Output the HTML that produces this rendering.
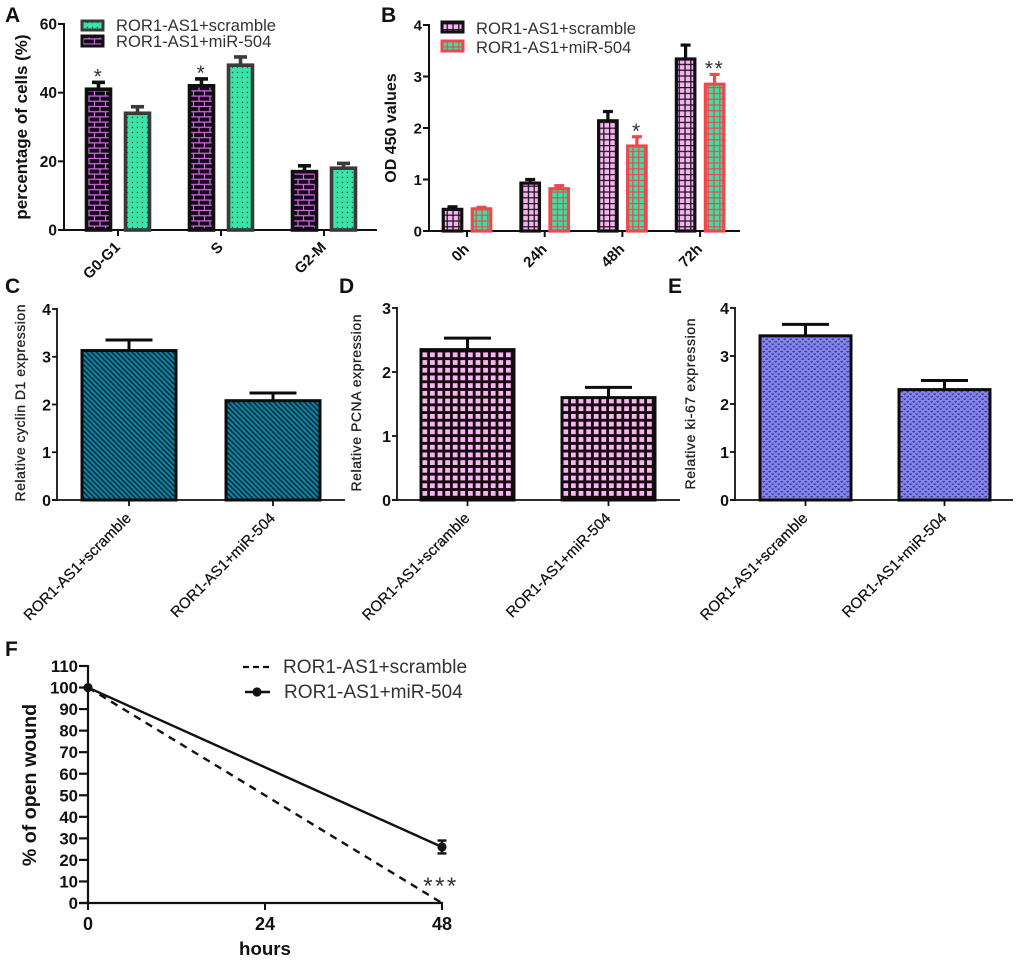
<!DOCTYPE html>
<html lang="en">
<head>
<meta charset="utf-8">
<title>ROR1-AS1 multi-panel figure</title>
<style>
html,body{margin:0;padding:0;background:#fff;overflow:hidden;}
svg{display:block;font-family:"Liberation Sans",Arial,sans-serif;filter:blur(0.35px);}
text{fill:#111;}
</style>
</head>
<body>
<svg id="fig" xmlns="http://www.w3.org/2000/svg" width="1020" height="961" viewBox="0 0 1020 961">
<defs>
  <pattern id="p-brick" width="11" height="10.4" patternUnits="userSpaceOnUse" x="86" y="0">
    <rect width="11" height="10.4" fill="#14061a"/>
    <path d="M0 2.5H11M0 7.7H11M3 2.5V7.7M8.5 7.7V10.4M8.5 0V2.5" stroke="#d36ae0" stroke-width="1.2" fill="none"/>
  </pattern>
  <pattern id="p-dots" width="5" height="5" patternUnits="userSpaceOnUse">
    <rect width="5" height="5" fill="#3be3a8"/>
    <rect x="1.8" y="1.8" width="1.3" height="1.3" fill="#1d5a48"/>
  </pattern>
  <pattern id="p-gridpink" width="5.8" height="5.8" patternUnits="userSpaceOnUse">
    <rect width="5.8" height="5.8" fill="#f3b4ee"/>
    <path d="M0 .6H5.8M.6 0V5.8" stroke="#1a0d1a" stroke-width="1.3" fill="none"/>
  </pattern>
  <pattern id="p-gridgreen" width="5.8" height="5.8" patternUnits="userSpaceOnUse">
    <rect width="5.8" height="5.8" fill="#34e3a6"/>
    <path d="M0 .6H5.8M.6 0V5.8" stroke="#f0474f" stroke-width="1.3" fill="none"/>
  </pattern>
  <pattern id="p-diag" width="3.6" height="3.6" patternUnits="userSpaceOnUse" patternTransform="rotate(45)">
    <rect width="3.6" height="3.6" fill="#0d86a6"/>
    <rect y="0" width="3.6" height="1.7" fill="#06303e"/>
  </pattern>
  <pattern id="p-square" width="7.6" height="7.7" patternUnits="userSpaceOnUse" x="420" y="350">
    <rect width="7.6" height="7.7" fill="#16060f"/>
    <rect x="2.4" y="2.4" width="4.8" height="4.8" fill="#f7b6f1"/>
  </pattern>
  <pattern id="p-square-2" width="7.6" height="7.7" patternUnits="userSpaceOnUse" x="561" y="350">
    <rect width="7.6" height="7.7" fill="#16060f"/>
    <rect x="2.4" y="2.4" width="4.8" height="4.8" fill="#f7b6f1"/>
  </pattern>
  <pattern id="p-blue" width="6" height="5" patternUnits="userSpaceOnUse">
    <rect width="6" height="5" fill="#8484ec"/>
    <path d="M.6 1.1l1.1 1 1.1-1M3.6 3.6l1.1 1 1.1-1" stroke="#2e2e86" stroke-width="1" fill="none"/>
  </pattern>
</defs>

<g font-weight="bold" font-size="21">
  <text x="5" y="22">A</text>
  <text x="381" y="22">B</text>
  <text x="5" y="293">C</text>
  <text x="339" y="293">D</text>
  <text x="668" y="293">E</text>
  <text x="5" y="656">F</text>
</g>

<g font-size="16.6">
  <rect x="82" y="21" width="21" height="9" fill="url(#p-dots)" stroke="#3a3a3a" stroke-width="3"/>
  <rect x="82" y="36" width="21" height="10" fill="url(#p-brick)" stroke="#111" stroke-width="3"/>
  <text x="116" y="31" style="fill:#333">ROR1-AS1+scramble</text>
  <text x="116" y="47" style="fill:#333">ROR1-AS1+miR-504</text>
</g>
<g font-size="16.6">
  <rect x="442" y="22" width="21" height="10" fill="url(#p-gridpink)" stroke="#111" stroke-width="3"/>
  <rect x="442" y="41" width="21" height="10" fill="url(#p-gridgreen)" stroke="#f0474f" stroke-width="3"/>
  <text x="476" y="34" style="fill:#333">ROR1-AS1+scramble</text>
  <text x="476" y="53" style="fill:#333">ROR1-AS1+miR-504</text>
</g>
<g font-size="19.1">
  <line x1="243" y1="667" x2="270" y2="667" stroke="#111" stroke-width="2.2" stroke-dasharray="6 4"/>
  <line x1="245" y1="692" x2="270" y2="692" stroke="#111" stroke-width="2.4"/>
  <circle cx="257" cy="692" r="4.6" fill="#111"/>
  <text x="283" y="673" style="fill:#333">ROR1-AS1+scramble</text>
  <text x="284" y="698" style="fill:#333">ROR1-AS1+miR-504</text>
</g>
</svg>

<script>
// Panel A
const aCategories = ['G0-G1', 'S', 'G2-M'];
const aMir504 = [41, 42, 17];
const aMir504Err = [2, 2, 1.7];
const aScramble = [34, 48, 18];
const aScrambleErr = [1.9, 2.4, 1.4];
const aTicks = [0, 20, 40, 60];
const aStars = ['*', '*', ''];
// Panel B
const bCategories = ['0h', '24h', '48h', '72h'];
const bScramble = [0.42, 0.93, 2.14, 3.34];
const bScrambleErr = [0.05, 0.07, 0.18, 0.27];
const bMir504 = [0.43, 0.82, 1.65, 2.85];
const bMir504Err = [0.03, 0.06, 0.18, 0.19];
const bTicks = [0, 1, 2, 3, 4];
const bStars = ['', '', '*', '**'];
// Panels C, D, E
const groupCategories = ['ROR1-AS1+scramble', 'ROR1-AS1+miR-504'];
const cValues = [3.13, 2.08];
const cErr = [0.22, 0.16];
const cTicks = [0, 1, 2, 3, 4];
const dValues = [2.35, 1.6];
const dErr = [0.18, 0.16];
const dTicks = [0, 1, 2, 3];
const eValues = [3.42, 2.3];
const eErr = [0.24, 0.19];
const eTicks = [0, 1, 2, 3, 4];
// Panel F
const fHours = [0, 48];
const fHourTicks = [0, 24, 48];
const fScramble = [100, 0];
const fMir504 = [100, 26];
const fMir504Err = [0, 3];
const fTicks = [0, 10, 20, 30, 40, 50, 60, 70, 80, 90, 100, 110];

const NS = 'http://www.w3.org/2000/svg';
const fig = document.getElementById('fig');

function make(parent, tag, attrs, name) {
  const el = document.createElementNS(NS, tag);
  for (const k in attrs) el.setAttribute(k, attrs[k]);
  
  
  parent.appendChild(el);
  return el;
}
function label(parent, attrs, str, name) {
  const t = make(parent, 'text', attrs, name);
  t.textContent = str;
  return t;
}

function drawAxes(g, o, prefix) {
  const y = v => o.y0 + (o.yTop - o.y0) * v / o.yMax;
  const tl = o.tickLen || 6;
  make(g, 'line', {x1: o.ax, y1: o.y0 + 1, x2: o.ax, y2: y(o.yMax) - 1, stroke: '#111', 'stroke-width': o.axisW}, prefix + '-y-axis');
  make(g, 'line', {x1: o.ax - tl, y1: o.y0, x2: o.xEnd, y2: o.y0, stroke: '#111', 'stroke-width': o.axisW}, prefix + '-x-axis');
  o.ticks.forEach(t => {
    make(g, 'line', {x1: o.ax - tl, y1: y(t), x2: o.ax, y2: y(t), stroke: '#111', 'stroke-width': o.axisW}, prefix + '-y-tick');
    label(g, {x: o.ax - tl - 1, y: y(t) + o.tickFont * 0.36, 'text-anchor': 'end', 'font-size': o.tickFont, 'font-weight': 'bold'}, String(t), prefix + '-y-tick-label');
  });
  return y;
}

function drawBar(g, cx, w, val, err, y, fill, stroke, sw, capW, name) {
  const top = y(val), hi = y(val + err);
  make(g, 'line', {x1: cx, y1: top, x2: cx, y2: hi, stroke: stroke, 'stroke-width': sw}, name + '-error-stem');
  make(g, 'line', {x1: cx - capW / 2, y1: hi, x2: cx + capW / 2, y2: hi, stroke: stroke, 'stroke-width': sw}, name + '-error-cap');
  make(g, 'rect', {x: cx - w / 2, y: top, width: w, height: y(0) - top, fill: fill, stroke: stroke, 'stroke-width': sw}, name);
}

function groupedPanel(o) {
  const g = make(fig, 'g', {}, o.name);
  const y = drawAxes(g, o, o.name);
  o.categories.forEach((c, i) => {
    const cx = o.x0 + o.step * i;
    make(g, 'line', {x1: cx, y1: o.y0, x2: cx, y2: o.y0 + 6, stroke: '#111', 'stroke-width': o.axisW}, o.name + '-x-tick');
    label(g, {x: 0, y: 0, transform: 'translate(' + (cx + o.labDx) + ',' + (o.y0 + o.labDy) + ') rotate(-45)', 'text-anchor': 'end', 'font-size': o.catFont, 'font-weight': 'bold'}, c, o.name + '-x-label');
    drawBar(g, cx - o.off, o.barW, o.s1[i], o.e1[i], y, o.f1, o.c1, o.barStroke, o.capW, o.name + '-bar-' + c + '-first');
    drawBar(g, cx + o.off, o.barW, o.s2[i], o.e2[i], y, o.f2, o.c2, o.barStroke, o.capW, o.name + '-bar-' + c + '-second');
    if (o.stars[i]) {
      const sx = o.starOnFirst ? cx - o.off : cx + o.off;
      const top = o.starOnFirst ? y(o.s1[i] + o.e1[i]) : y(o.s2[i] + o.e2[i]);
      label(g, {x: sx, y: top + 1, 'text-anchor': 'middle', 'font-size': 21, 'letter-spacing': 1.5, style: 'fill:#333'}, o.stars[i], o.name + '-significance-star');
    }
  });
  label(g, {x: 0, y: 0, transform: 'translate(' + o.titleX + ',' + o.titleY + ') rotate(-90)', 'text-anchor': 'middle', 'font-size': o.titleFont, 'font-weight': 'bold'}, o.title, o.name + '-y-title');
}

function singlePanel(o) {
  const g = make(fig, 'g', {}, o.name);
  const y = drawAxes(g, o, o.name);
  groupCategories.forEach((c, i) => {
    const cx = o.cx0 + o.step * i;
    make(g, 'line', {x1: cx, y1: o.y0, x2: cx, y2: o.y0 + 6, stroke: '#111', 'stroke-width': 1.8}, o.name + '-x-tick');
    label(g, {x: 0, y: 0, transform: 'translate(' + (cx + 3) + ',' + (o.y0 + 19) + ') rotate(-45)', 'text-anchor': 'end', 'font-size': 15, style: 'fill:#111;stroke:#111;stroke-width:.25'}, c, o.name + '-x-label');
    drawBar(g, cx, o.barW, o.values[i], o.err[i], y, o.fills[i], '#0c0c0c', 3, 47, o.name + '-bar-' + i);
  });
  label(g, {x: 0, y: 0, transform: 'translate(' + o.titleX + ',' + o.titleY + ') rotate(-90)', 'text-anchor': 'middle', 'font-size': 14, textLength: o.titleLen, style: 'fill:#222;stroke:#222;stroke-width:.3'}, o.title, o.name + '-y-title');
}

groupedPanel({
  name: 'panel-a', categories: aCategories, s1: aMir504, e1: aMir504Err, s2: aScramble, e2: aScrambleErr,
  ticks: aTicks, yMax: 60, y0: 230, yTop: 24, ax: 64, xEnd: 377, axisW: 2, tickFont: 15.5, tickLen: 6,
  x0: 118, step: 103, off: 19.5, barW: 24, barStroke: 3.6, capW: 13, catFont: 15,
  labDx: 3, labDy: 18, f1: 'url(#p-brick)', c1: '#0f0f0f', f2: 'url(#p-dots)', c2: '#3a3a3a',
  stars: aStars, starOnFirst: true, title: 'percentage of cells (%)', titleX: 27, titleY: 127, titleFont: 17
});
groupedPanel({
  name: 'panel-b', categories: bCategories, s1: bScramble, e1: bScrambleErr, s2: bMir504, e2: bMir504Err,
  ticks: bTicks, yMax: 4, y0: 231, yTop: 25, ax: 429, xEnd: 740, axisW: 2, tickFont: 15, tickLen: 6,
  x0: 467, step: 77.7, off: 14.5, barW: 18.5, barStroke: 3.2, capW: 10, catFont: 15,
  labDx: 3, labDy: 19, f1: 'url(#p-gridpink)', c1: '#0f0f0f', f2: 'url(#p-gridgreen)', c2: '#f0474f',
  stars: bStars, starOnFirst: false, title: 'OD 450 values', titleX: 396, titleY: 128, titleFont: 16
});
singlePanel({
  name: 'panel-c', values: cValues, err: cErr, ticks: cTicks, yMax: 4, y0: 500, yTop: 309, ax: 57, xEnd: 345,
  axisW: 1.8, tickFont: 16, tickLen: 5, cx0: 129, step: 144, barW: 94, fills: ['url(#p-diag)', 'url(#p-diag)'],
  title: 'Relative cyclin D1 expression', titleX: 25, titleY: 403, titleLen: 197
});
singlePanel({
  name: 'panel-d', values: dValues, err: dErr, ticks: dTicks, yMax: 3, y0: 500, yTop: 308, ax: 397, xEnd: 680,
  axisW: 1.8, tickFont: 16, tickLen: 5, cx0: 467.5, step: 141, barW: 93, fills: ['url(#p-square)', 'url(#p-square-2)'],
  title: 'Relative PCNA expression', titleX: 361, titleY: 403, titleLen: 177
});
singlePanel({
  name: 'panel-e', values: eValues, err: eErr, ticks: eTicks, yMax: 4, y0: 500, yTop: 308, ax: 735, xEnd: 1013,
  axisW: 1.8, tickFont: 16, tickLen: 5, cx0: 805.5, step: 139, barW: 91, fills: ['url(#p-blue)', 'url(#p-blue)'],
  title: 'Relative ki-67 expression', titleX: 695, titleY: 404, titleLen: 171
});

(function drawF() {
  const o = {ticks: fTicks, yMax: 110, y0: 903, yTop: 666, ax: 88, xEnd: 443, axisW: 2.2, tickFont: 16.8, tickLen: 9};
  const g = make(fig, 'g', {}, 'panel-f');
  const y = drawAxes(g, o, 'panel-f');
  const x = h => 88 + (442 - 88) * h / 48;
  fHourTicks.forEach(h => {
    make(g, 'line', {x1: x(h), y1: 903, x2: x(h), y2: 910, stroke: '#111', 'stroke-width': 2}, 'panel-f-x-tick');
    label(g, {x: x(h), y: 930, 'text-anchor': 'middle', 'font-size': 18, 'font-weight': 'bold'}, String(h), 'panel-f-x-tick-label');
  });
  label(g, {x: 265, y: 955, 'text-anchor': 'middle', 'font-size': 18.7, 'font-weight': 'bold'}, 'hours', 'panel-f-x-title');
  label(g, {x: 0, y: 0, transform: 'translate(36,785) rotate(-90)', 'text-anchor': 'middle', 'font-size': 19.6, 'font-weight': 'bold'}, '% of open wound', 'panel-f-y-title');
  const line = (vals, name, extra) => {
    const pts = vals.map((v, i) => x(fHours[i]) + ',' + y(v)).join(' ');
    make(g, 'polyline', Object.assign({points: pts, fill: 'none', stroke: '#111', 'stroke-width': 2.4}, extra), name);
  };
  line(fScramble, 'panel-f-scramble-line', {'stroke-dasharray': '7.5 6'});
  line(fMir504, 'panel-f-mir504-line', {});
  fMir504.forEach((v, i) => {
    const cx = x(fHours[i]);
    if (fMir504Err[i] > 0) {
      const hi = y(v + fMir504Err[i]), lo = y(v - fMir504Err[i]);
      make(g, 'line', {x1: cx, y1: hi, x2: cx, y2: lo, stroke: '#111', 'stroke-width': 2.4}, 'panel-f-error-bar');
      make(g, 'line', {x1: cx - 4.5, y1: hi, x2: cx + 4.5, y2: hi, stroke: '#111', 'stroke-width': 2.4}, 'panel-f-error-cap-top');
      make(g, 'line', {x1: cx - 4.5, y1: lo, x2: cx + 4.5, y2: lo, stroke: '#111', 'stroke-width': 2.4}, 'panel-f-error-cap-bottom');
    }
    make(g, 'circle', {cx: cx, cy: y(v), r: 4.6, fill: '#111'}, 'panel-f-mir504-point');
  });
  label(g, {x: 441, y: 894, 'text-anchor': 'middle', 'font-size': 24, 'letter-spacing': 2.5, style: 'fill:#333'}, '***', 'panel-f-significance-stars');
})();
</script>
</body>
</html>
